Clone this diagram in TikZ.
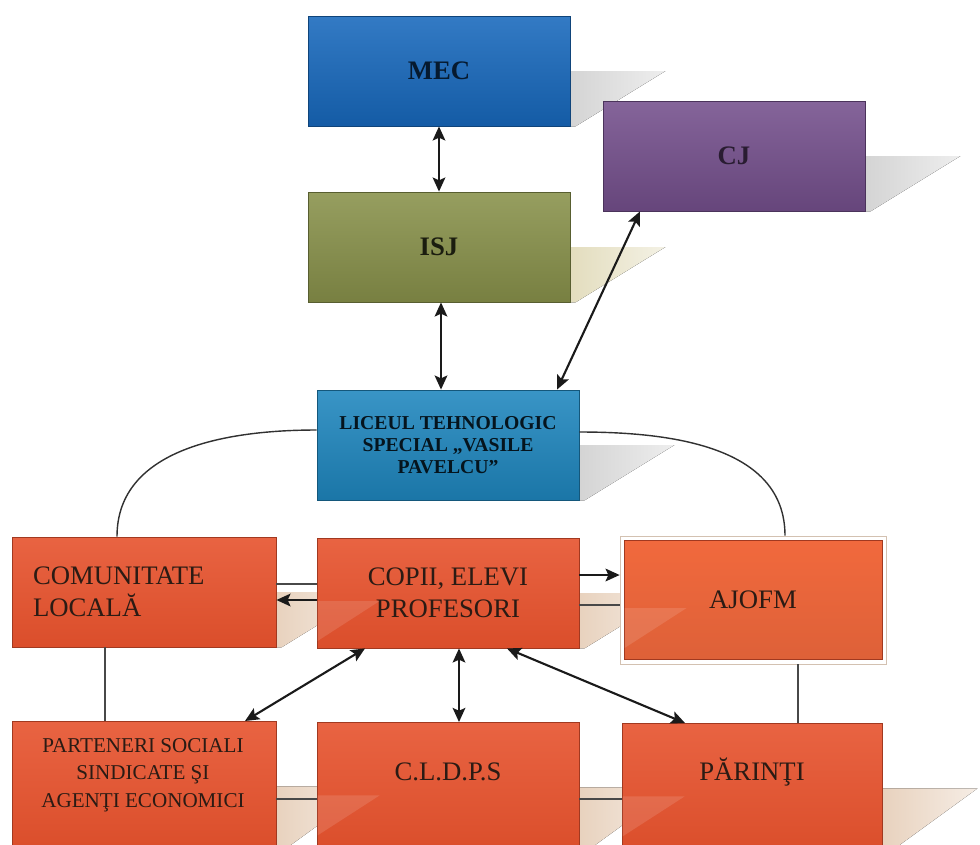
\documentclass[tikz,border=0pt]{standalone}
\usepackage{fontspec}
\setmainfont{Liberation Serif}
\usetikzlibrary{arrows.meta,backgrounds}

\definecolor{mecblue}{HTML}{1768BC}
\definecolor{cjpurple}{HTML}{744F8C}
\definecolor{isjolive}{HTML}{88914A}
\definecolor{liceublue}{HTML}{1E86BE}
\definecolor{orred}{HTML}{E6522D}
\definecolor{orlight}{HTML}{F1693D}
\definecolor{ortext}{HTML}{2B1B14}
\definecolor{linkcol}{HTML}{1A1A1A}
\definecolor{shgray}{HTML}{D4D4D4}
\definecolor{shkhaki}{HTML}{E3DDBE}
\definecolor{shbeige}{HTML}{E8D2BE}

\begin{document}
\begin{tikzpicture}[x=0.025cm, y=-0.025cm,
		topbox/.style = {shape=rectangle, draw=#1!65!black, line width=0.6pt,
			top color=#1!88!white, bottom color=#1!88!black,
			minimum width=262*0.025cm, minimum height=110*0.025cm,
			align=center, font=\fontsize{19}{22}\selectfont\bfseries},
		orbox/.style = {shape=rectangle, draw=orred!70!black, line width=0.6pt,
			top color=orred!90!white, bottom color=orred!95!black,
			minimum width=262*0.025cm, minimum height=110*0.025cm,
			align=center, text=ortext, font=\fontsize{19}{23}\selectfont},
		lowbox/.style = {orbox, minimum height=130*0.025cm, anchor=north},
		lowtext/.style = {align=center, text=ortext, font=\fontsize{19}{23}\selectfont},
		dbl/.style = {line width=1.5pt, draw=linkcol,
			{Stealth[length=10pt,width=9pt,inset=2pt]}-{Stealth[length=10pt,width=9pt,inset=2pt]}},
		one/.style = {line width=1.5pt, draw=linkcol, -{Stealth[length=10pt,width=9pt,inset=2pt]}},
		plain/.style = {line width=1.4pt, draw=linkcol!80!white},
		thin/.style = {line width=1pt, draw=linkcol!90!white}]

	\useasboundingbox (0,0) rectangle (980,844);

	% upper levels
	\node[topbox=mecblue, text=mecblue!25!black] (mec) at (439,71) {MEC};
	\node[topbox=cjpurple, text=cjpurple!35!black] (cj) at (734,156) {CJ};
	\node[topbox=isjolive, text=isjolive!20!black] (isj) at (439,247) {ISJ};
	\node[topbox=liceublue, text=liceublue!15!black,
		font=\fontsize{14}{15.5}\selectfont\bfseries] (liceu) at (448,445)
		{LICEUL TEHNOLOGIC\\SPECIAL „VASILE\\PAVELCU”};

	% middle row
	\node[orbox, minimum width=264*0.025cm, align=left, text width=222*0.025cm,
		inner xsep=21*0.025cm] (comunitate) at (144,592) {COMUNITATE\\LOCALĂ};
	\node[orbox] (copii) at (448,593) {COPII, ELEVI\\PROFESORI};
	\node[shape=rectangle, draw=shbeige!80!gray, fill=white, line width=0.5pt,
		minimum width=266*0.025cm, minimum height=128*0.025cm] (ajofm) at (753,600) {};
	\node[orbox, top color=orlight, bottom color=orlight!92!black,
		minimum width=258*0.025cm, minimum height=119*0.025cm] (ajofmbox) at (ajofm) {AJOFM};

	% lower row
	\node[lowbox, minimum width=264*0.025cm] (parteneri) at (144,721) {};
	\node[lowbox] (cldps) at (448,722) {};
	\node[lowbox, minimum width=260*0.025cm] (parinti) at (752,723) {};
	\node[lowtext, font=\fontsize{15}{19.5}\selectfont] (partenerit) at (143,775)
		{PARTENERI SOCIALI\\SINDICATE ŞI\\AGENŢI ECONOMICI};
	\node[lowtext] (cldpst) at (448,772) {C.L.D.P.S};
	\node[lowtext] (parintit) at (752,772) {PĂRINŢI};

	% light glare inside the boxes
	\foreach \b in {copii,ajofmbox,cldps,parinti}
		\fill[white, opacity=0.12] ([shift={(1,8)}]\b.west) -- ++(62,0) -- ++(-62,40) -- cycle;

	% shadows
	\begin{scope}[on background layer]
		\fill[white] (0,0) rectangle (980,844);
		\foreach \b/\c in {mec/shgray,cj/shgray,isj/shkhaki,liceu/shgray,comunitate/shbeige,
				copii/shbeige,parteneri/shbeige,cldps/shbeige,parinti/shbeige}
			\fill[left color=\c, right color=\c!40!white]
				(\b.east) -- ++(95,0) -- ([shift={(5,0)}]\b.south east) -- (\b.south east) -- cycle;
	\end{scope}

	% links
	\draw[dbl] (mec.south) -- (isj.north);
	\draw[dbl] ([shift={(2,0)}]isj.south) -- ([shift={(2,0)}]isj.south |- liceu.north);
	\draw[dbl] ([shift={(-94,0)}]cj.south) -- ([shift={(109,0)}]liceu.north);
	\draw[thin] ([shift={(0,-15)}]liceu.west) to[out=180, in=90] ([shift={(-27,0)}]comunitate.north);
	\draw[thin] ([shift={(0,-13)}]liceu.east) to[out=0, in=90] ([shift={(32,0)}]ajofm.north);
	\draw[one] ([shift={(0,-18)}]copii.east) -- ([shift={(0,-18)}]copii.east -| ajofm.west);
	\draw[plain] ([shift={(0,12)}]copii.east) -- ([shift={(0,12)}]copii.east -| ajofm.west);
	\draw[plain] ([shift={(0,-9)}]copii.west) -- ([shift={(0,-9)}]copii.west -| comunitate.east);
	\draw[one] ([shift={(0,7)}]copii.west) -- ([shift={(0,7)}]copii.west -| comunitate.east);
	\draw[plain] ([shift={(-39,0)}]comunitate.south) -- ([shift={(-39,0)}]comunitate.south |- parteneri.north);
	\draw[dbl] ([shift={(-83,0)}]copii.south) -- ([shift={(101,0)}]parteneri.north);
	\draw[dbl] ([shift={(11,0)}]copii.south) -- ([shift={(11,0)}]copii.south |- cldps.north);
	\draw[dbl] ([shift={(59,0)}]copii.south) -- ([shift={(-67,0)}]parinti.north);
	\draw[plain] ([shift={(0,13)}]parteneri.east) -- ([shift={(0,13)}]parteneri.east -| cldps.west);
	\draw[plain] ([shift={(0,12)}]cldps.east) -- ([shift={(0,12)}]cldps.east -| parinti.west);
	\draw[plain] ([shift={(46,0)}]parinti.north) -- ([shift={(46,0)}]parinti.north |- ajofm.south);
\end{tikzpicture}
\end{document}
